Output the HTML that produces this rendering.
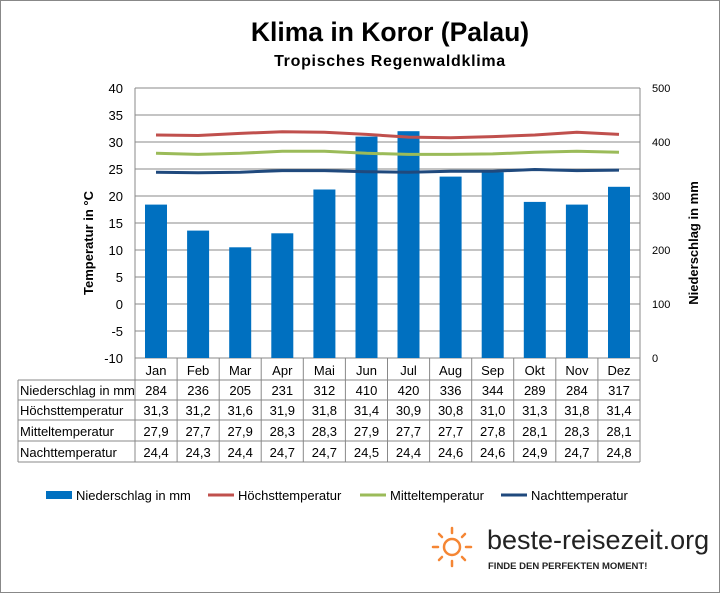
<!DOCTYPE html><html><head><meta charset="utf-8"><style>body{margin:0;background:#fff}svg{display:block;font-family:"Liberation Sans",sans-serif}</style></head><body>
<svg width="720" height="593" viewBox="0 0 720 593">
<rect x="0.5" y="0.5" width="719" height="592" fill="#fff" stroke="#888"/>
<text x="390" y="41" font-size="26.5" font-weight="bold" text-anchor="middle">Klima in Koror (Palau)</text>
<text x="390" y="66" font-size="16" font-weight="bold" text-anchor="middle" letter-spacing="0.7">Tropisches Regenwaldklima</text>
<g stroke="#888" stroke-width="1">
<line x1="135" y1="88" x2="640" y2="88"/><line x1="135" y1="115" x2="640" y2="115"/><line x1="135" y1="142" x2="640" y2="142"/><line x1="135" y1="169" x2="640" y2="169"/><line x1="135" y1="196" x2="640" y2="196"/><line x1="135" y1="223" x2="640" y2="223"/><line x1="135" y1="250" x2="640" y2="250"/><line x1="135" y1="277" x2="640" y2="277"/><line x1="135" y1="304" x2="640" y2="304"/><line x1="135" y1="331" x2="640" y2="331"/><line x1="135" y1="358" x2="640" y2="358"/>
<line x1="135" y1="88" x2="135" y2="462"/><line x1="640" y1="88" x2="640" y2="462"/>
</g>
<g fill="#0070C0">
<rect x="145" y="204.6" width="22" height="153.4"/><rect x="187.1" y="230.6" width="22" height="127.4"/><rect x="229.2" y="247.3" width="22" height="110.7"/><rect x="271.3" y="233.3" width="22" height="124.7"/><rect x="313.4" y="189.5" width="22" height="168.5"/><rect x="355.5" y="136.6" width="22" height="221.4"/><rect x="397.5" y="131.2" width="22" height="226.8"/><rect x="439.6" y="176.6" width="22" height="181.4"/><rect x="481.7" y="172.2" width="22" height="185.8"/><rect x="523.8" y="201.9" width="22" height="156.1"/><rect x="565.9" y="204.6" width="22" height="153.4"/><rect x="608" y="186.8" width="22" height="171.2"/>
</g>
<g fill="none" stroke-width="3" stroke-linejoin="round">
<polyline stroke="#C0504D" points="156,135 198.1,135.5 240.2,133.4 282.3,131.7 324.4,132.3 366.5,134.4 408.5,137.1 450.6,137.7 492.7,136.6 534.8,135 576.9,132.3 619,134.4"/>
<polyline stroke="#9BBB59" points="156,153.3 198.1,154.4 240.2,153.3 282.3,151.2 324.4,151.2 366.5,153.3 408.5,154.4 450.6,154.4 492.7,153.9 534.8,152.3 576.9,151.2 619,152.3"/>
<polyline stroke="#1F497D" points="156,172.2 198.1,172.8 240.2,172.2 282.3,170.6 324.4,170.6 366.5,171.7 408.5,172.2 450.6,171.2 492.7,171.2 534.8,169.5 576.9,170.6 619,170.1"/>
</g>
<g font-size="13" text-anchor="end">
<text x="123" y="93">40</text><text x="123" y="120">35</text><text x="123" y="147">30</text><text x="123" y="174">25</text><text x="123" y="201">20</text><text x="123" y="228">15</text><text x="123" y="255">10</text><text x="123" y="282">5</text><text x="123" y="309">0</text><text x="123" y="336">-5</text><text x="123" y="363">-10</text>
</g>
<g font-size="11">
<text x="652" y="92">500</text><text x="652" y="146">400</text><text x="652" y="200">300</text><text x="652" y="254">200</text><text x="652" y="308">100</text><text x="652" y="362">0</text>
</g>
<text transform="translate(93,243) rotate(-90)" font-size="13" font-weight="bold" text-anchor="middle">Temperatur in °C</text>
<text transform="translate(698,243) rotate(-90)" font-size="13" font-weight="bold" text-anchor="middle">Niederschlag in mm</text>
<g stroke="#888" stroke-width="1">
<line x1="18" y1="380" x2="640" y2="380"/><line x1="18" y1="400" x2="640" y2="400"/><line x1="18" y1="420" x2="640" y2="420"/><line x1="18" y1="441" x2="640" y2="441"/><line x1="18" y1="462" x2="640" y2="462"/>
<line x1="18" y1="380" x2="18" y2="462"/>
<line x1="177.1" y1="358" x2="177.1" y2="462"/><line x1="219.2" y1="358" x2="219.2" y2="462"/><line x1="261.2" y1="358" x2="261.2" y2="462"/><line x1="303.3" y1="358" x2="303.3" y2="462"/><line x1="345.4" y1="358" x2="345.4" y2="462"/><line x1="387.5" y1="358" x2="387.5" y2="462"/><line x1="429.6" y1="358" x2="429.6" y2="462"/><line x1="471.7" y1="358" x2="471.7" y2="462"/><line x1="513.7" y1="358" x2="513.7" y2="462"/><line x1="555.8" y1="358" x2="555.8" y2="462"/><line x1="597.9" y1="358" x2="597.9" y2="462"/>
</g>
<g font-size="13">
<text x="20" y="395">Niederschlag in mm</text><text x="20" y="415">Höchsttemperatur</text><text x="20" y="436">Mitteltemperatur</text><text x="20" y="457">Nachttemperatur</text>
</g>
<g font-size="13" text-anchor="middle">
<g transform="translate(0,375)"><text x="156">Jan</text><text x="198.1">Feb</text><text x="240.2">Mar</text><text x="282.3">Apr</text><text x="324.4">Mai</text><text x="366.5">Jun</text><text x="408.5">Jul</text><text x="450.6">Aug</text><text x="492.7">Sep</text><text x="534.8">Okt</text><text x="576.9">Nov</text><text x="619">Dez</text></g>
<g transform="translate(0,395)"><text x="156">284</text><text x="198.1">236</text><text x="240.2">205</text><text x="282.3">231</text><text x="324.4">312</text><text x="366.5">410</text><text x="408.5">420</text><text x="450.6">336</text><text x="492.7">344</text><text x="534.8">289</text><text x="576.9">284</text><text x="619">317</text></g>
<g transform="translate(0,415)"><text x="156">31,3</text><text x="198.1">31,2</text><text x="240.2">31,6</text><text x="282.3">31,9</text><text x="324.4">31,8</text><text x="366.5">31,4</text><text x="408.5">30,9</text><text x="450.6">30,8</text><text x="492.7">31,0</text><text x="534.8">31,3</text><text x="576.9">31,8</text><text x="619">31,4</text></g>
<g transform="translate(0,436)"><text x="156">27,9</text><text x="198.1">27,7</text><text x="240.2">27,9</text><text x="282.3">28,3</text><text x="324.4">28,3</text><text x="366.5">27,9</text><text x="408.5">27,7</text><text x="450.6">27,7</text><text x="492.7">27,8</text><text x="534.8">28,1</text><text x="576.9">28,3</text><text x="619">28,1</text></g>
<g transform="translate(0,457)"><text x="156">24,4</text><text x="198.1">24,3</text><text x="240.2">24,4</text><text x="282.3">24,7</text><text x="324.4">24,7</text><text x="366.5">24,5</text><text x="408.5">24,4</text><text x="450.6">24,6</text><text x="492.7">24,6</text><text x="534.8">24,9</text><text x="576.9">24,7</text><text x="619">24,8</text></g>
</g>
<g font-size="13">
<rect x="46" y="491" width="26" height="8" fill="#0070C0"/><text x="76" y="500">Niederschlag in mm</text>
<line x1="208" y1="495" x2="234" y2="495" stroke="#C0504D" stroke-width="3"/><text x="238" y="500">Höchsttemperatur</text>
<line x1="360" y1="495" x2="386" y2="495" stroke="#9BBB59" stroke-width="3"/><text x="390" y="500">Mitteltemperatur</text>
<line x1="501" y1="495" x2="527" y2="495" stroke="#1F497D" stroke-width="3"/><text x="531" y="500">Nachttemperatur</text>
</g>
<g stroke="#F58634" stroke-width="2.5" stroke-linecap="round" fill="none">
<circle cx="452" cy="547" r="8"/>
<line x1="452" y1="528" x2="452" y2="533"/><line x1="452" y1="561" x2="452" y2="566"/><line x1="433" y1="547" x2="438" y2="547"/><line x1="466" y1="547" x2="471" y2="547"/>
<line x1="439" y1="534" x2="442" y2="537"/><line x1="462" y1="557" x2="465" y2="560"/><line x1="439" y1="560" x2="442" y2="557"/><line x1="462" y1="537" x2="465" y2="534"/>
</g>
<text x="487" y="549" font-size="27" fill="#222">beste-reisezeit.org</text>
<text x="488" y="569" font-size="9.5" font-weight="bold" fill="#222">FINDE DEN PERFEKTEN MOMENT!</text>
</svg>
</body></html>
